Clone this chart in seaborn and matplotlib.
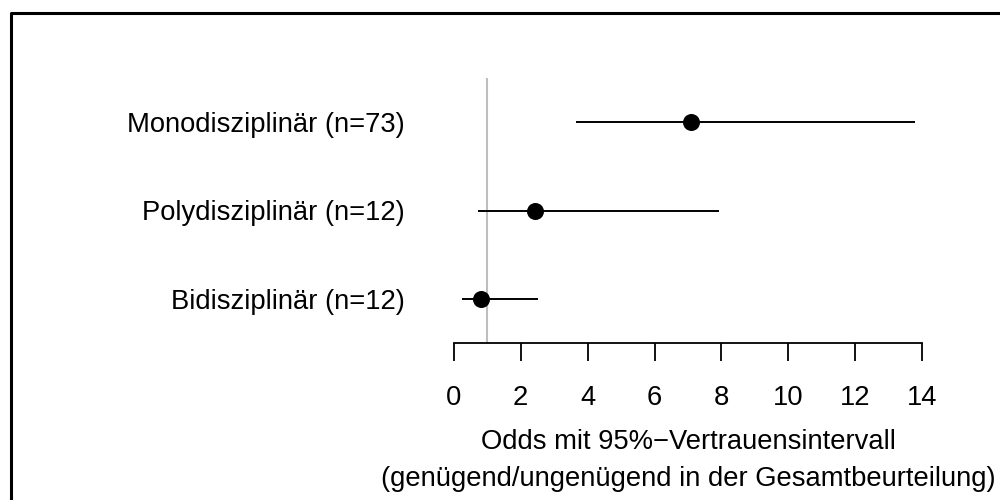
import matplotlib
matplotlib.use("Agg")
import matplotlib.pyplot as plt
import seaborn as sns
import pandas as pd
from matplotlib.lines import Line2D

groups = ["Monodisziplinär (n=73)", "Polydisziplinär (n=12)", "Bidisziplinär (n=12)"]
odds = [7.10, 2.43, 0.83]
lower = [3.65, 0.73, 0.26]
upper = [13.78, 7.93, 2.52]
xticks = [0, 2, 4, 6, 8, 10, 12, 14]
xlabel = "Odds mit 95%\u2212Vertrauensintervall\n(genügend/ungenügend in der Gesamtbeurteilung)"

sns.set_style("white")
plt.rcParams['font.family'] = ['Liberation Sans', 'DejaVu Sans']
plt.rcParams['text.color'] = 'black'
plt.rcParams['xtick.color'] = 'black'
plt.rcParams['ytick.color'] = 'black'
plt.rcParams['axes.labelcolor'] = 'black'

FS = 19.7
pos = [3, 2, 1]
df = pd.DataFrame({"group": groups, "odds": odds, "lower": lower, "upper": upper, "pos": pos})

fig = plt.figure(figsize=(10, 5), dpi=100)
ax = fig.add_axes([0.4537, 1 - 343 / 500, 0.4686, 265 / 500])

ax.axvline(1, color="#bebebe", lw=1.5, zorder=0)
ax.hlines(df["pos"], df["lower"], df["upper"], color="black", lw=1.4, zorder=2)
sns.scatterplot(data=df, x="odds", y="pos", ax=ax, color="black", s=150,
                edgecolor="black", linewidth=0, zorder=3, legend=False)

ax.set_xlim(0, 14)
ax.set_ylim(0.5, 3.5)
ax.set_xticks(xticks)
ax.set_xticklabels([str(t) for t in xticks], fontsize=FS)
ax.set_yticks(pos)
ax.set_yticklabels(groups, fontsize=FS)
for s in ["top", "right", "left"]:
    ax.spines[s].set_visible(False)
ax.spines["bottom"].set_bounds(0, 14)
ax.spines["bottom"].set_linewidth(1.3)
ax.spines["bottom"].set_color("black")
ax.tick_params(axis="x", length=13, width=1.3, pad=17, direction="out", bottom=True, color="black")
ax.tick_params(axis="y", length=0, pad=35)
ax.set_xlabel(xlabel, fontsize=FS, linespacing=1.56, labelpad=13)
ax.set_ylabel("")

fig.add_artist(Line2D([0.011, 0.011, 1.0], [0.0, 1 - 13 / 500, 1 - 13 / 500],
                      color="black", lw=2.2, transform=fig.transFigure))

fig.savefig("out.png", dpi=100, facecolor="white")
